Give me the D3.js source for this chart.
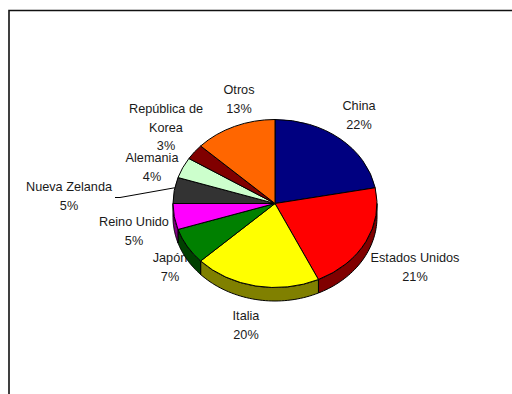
<!DOCTYPE html>
<html>
<head>
<meta charset="utf-8">
<script src="https://cdn.jsdelivr.net/npm/d3@7/dist/d3.min.js"></script>
<style>
  html, body { margin: 0; padding: 0; background: #fff; }
  svg { display: block; }
  text { font-family: "Liberation Sans", Arial, sans-serif; font-size: 12.7px; fill: #1a1a1a; text-anchor: middle; }
</style>
</head>
<body>
<svg id="chart" width="512" height="394"></svg>
<script>
// Share of total by country, clockwise from twelve o'clock
const countries = ["China", "Estados Unidos", "Italia", "Japón", "Reino Unido", "Nueva Zelanda", "Alemania", "República de Korea", "Otros"];
const shares = [22, 21, 20, 7, 5, 5, 4, 3, 13];
const labelLines = [["China"], ["Estados Unidos"], ["Italia"], ["Japón"], ["Reino Unido"], ["Nueva Zelanda"], ["Alemania"], ["República de", "Korea"], ["Otros"]];

// Face and side-wall colours per slice
const faceColors = ["#000080", "#ff0000", "#ffff00", "#008000", "#ff00ff", "#333333", "#ccffcc", "#800000", "#ff6600"];
const wallColors = ["#000040", "#800000", "#808000", "#004000", "#800080", "#1a1a1a", "#668066", "#400000", "#803300"];

// Placement of the first label line for each slice
const labelX = [359, 415, 246, 170, 134, 69, 152, 166, 239];
const labelY = [110, 262, 320, 262, 226, 191, 162, 113, 94];
const lineStep = 18.5;

const cx = 275, cy = 203.5, rx = 102, ry = 84, depth = 13.5;

const svg = d3.select("#chart");

// Chart frame, open at the right and bottom edges of the window
const frame = d3.path();
frame.moveTo(9, 394);
frame.lineTo(9, 10.5);
frame.lineTo(512, 10.5);
svg.append("path").attr("d", frame.toString()).attr("fill", "none").attr("stroke", "#111").attr("stroke-width", 1.6);

// Labels sit beneath the pie, which may clip them slightly
const labels = svg.append("g");
const pct = d3.format("d");
labelLines.forEach((lines, i) => {
  const t = labels.append("text");
  lines.concat(pct(shares[i]) + "%").forEach((s, j) => {
    t.append("tspan").attr("x", labelX[i]).attr("y", labelY[i] + j * lineStep).text(s);
  });
});

const slices = d3.pie().sort(null).value(d => d)(shares);

// Rim point at angle a (clockwise from top) on the tilted ellipse
const rimX = a => cx + rx * Math.sin(a);
const rimY = a => cy - ry * Math.cos(a);

// Side walls: only the part of each slice facing the viewer (90°–270°)
const walls = svg.append("g");
slices.forEach((s, i) => {
  const a0 = Math.max(s.startAngle, Math.PI / 2);
  const a1 = Math.min(s.endAngle, 3 * Math.PI / 2);
  if (a1 <= a0) return;
  const angles = d3.range(0, 41).map(k => a0 + (a1 - a0) * k / 40);
  const outline = angles.map(a => [rimX(a), rimY(a)])
    .concat(angles.slice().reverse().map(a => [rimX(a), rimY(a) + depth]));
  walls.append("path")
    .attr("d", d3.line()(outline) + "Z")
    .attr("fill", wallColors[i])
    .attr("stroke", "#000")
    .attr("stroke-width", 1)
    .attr("stroke-linejoin", "round");
});

// Top face: circular arcs flattened into an ellipse
const arc = d3.arc().innerRadius(0).outerRadius(rx);
svg.append("g")
  .attr("transform", `translate(${cx},${cy}) scale(1,${ry / rx})`)
  .selectAll("path")
  .data(slices)
  .join("path")
  .attr("d", arc)
  .attr("fill", (d, i) => faceColors[i])
  .attr("stroke", "#000")
  .attr("stroke-width", 1)
  .attr("stroke-linejoin", "round")
  .attr("vector-effect", "non-scaling-stroke");

// Leader line from the Nueva Zelanda label to its slice
const nz = slices[countries.indexOf("Nueva Zelanda")];
const nzTarget = nz.startAngle + (nz.endAngle - nz.startAngle) * 0.6;
svg.append("path")
  .attr("d", d3.line()([[115, 197.5], [120, 197.5], [rimX(nzTarget), rimY(nzTarget)]]))
  .attr("fill", "none")
  .attr("stroke", "#000")
  .attr("stroke-width", 1);
</script>
</body>
</html>
